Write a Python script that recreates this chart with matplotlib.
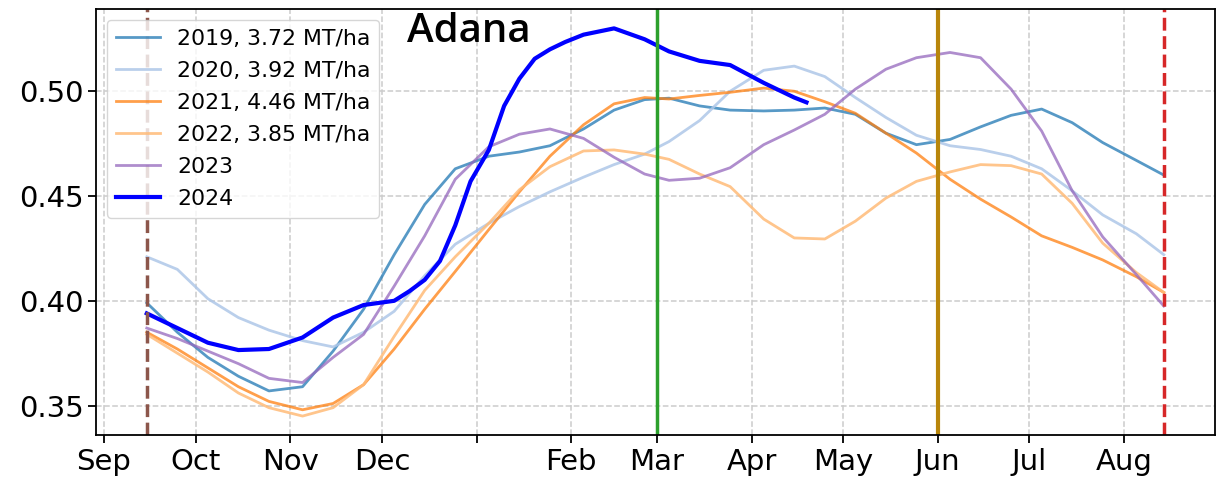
import datetime as dt
import matplotlib
matplotlib.use('Agg')
import matplotlib.pyplot as plt
import matplotlib.dates as mdates
from matplotlib.ticker import MultipleLocator, FuncFormatter

# season axis: Sep -> Aug
dates = ['2022-09-15', '2022-09-25', '2022-10-05', '2022-10-15', '2022-10-25',
         '2022-11-05', '2022-11-15', '2022-11-25', '2022-12-05', '2022-12-15',
         '2022-12-25', '2023-01-05', '2023-01-15', '2023-01-25', '2023-02-05',
         '2023-02-15', '2023-02-25', '2023-03-05', '2023-03-15', '2023-03-25',
         '2023-04-05', '2023-04-15', '2023-04-25', '2023-05-05', '2023-05-15',
         '2023-05-25', '2023-06-05', '2023-06-15', '2023-06-25', '2023-07-05',
         '2023-07-15', '2023-07-25', '2023-08-05', '2023-08-14']
# current season is sampled a bit denser through the winter rise
dates_2024 = ['2022-09-15', '2022-09-25', '2022-10-05', '2022-10-15', '2022-10-25',
              '2022-11-05', '2022-11-15', '2022-11-25', '2022-12-05', '2022-12-10',
              '2022-12-15', '2022-12-20', '2022-12-25', '2022-12-30', '2023-01-05',
              '2023-01-10', '2023-01-15', '2023-01-20', '2023-01-25', '2023-01-30',
              '2023-02-05', '2023-02-15', '2023-02-25', '2023-03-05', '2023-03-15',
              '2023-03-25', '2023-04-05', '2023-04-15', '2023-04-19']

ndvi_2019 = [0.399, 0.385, 0.373, 0.364, 0.357, 0.359, 0.376, 0.396, 0.422, 0.446,
             0.463, 0.469, 0.471, 0.474, 0.482, 0.491, 0.496, 0.4967, 0.493, 0.491,
             0.4906, 0.491, 0.492, 0.489, 0.480, 0.4745, 0.477, 0.483, 0.4885, 0.4915,
             0.485, 0.4755, 0.467, 0.460]
ndvi_2020 = [0.421, 0.415, 0.401, 0.392, 0.386, 0.381, 0.378, 0.385, 0.395, 0.412,
             0.427, 0.437, 0.445, 0.452, 0.459, 0.465, 0.470, 0.476, 0.486, 0.500,
             0.510, 0.512, 0.507, 0.497, 0.4875, 0.479, 0.474, 0.4722, 0.469, 0.463,
             0.4525, 0.441, 0.432, 0.422]
ndvi_2021 = [0.385, 0.377, 0.368, 0.359, 0.352, 0.348, 0.351, 0.360, 0.377, 0.396,
             0.414, 0.434, 0.452, 0.469, 0.484, 0.494, 0.497, 0.4963, 0.498, 0.4995,
             0.5015, 0.500, 0.495, 0.4895, 0.480, 0.4705, 0.458, 0.4485, 0.440, 0.431,
             0.4255, 0.4195, 0.4115, 0.404]
ndvi_2022 = [0.384, 0.375, 0.366, 0.356, 0.349, 0.345, 0.349, 0.360, 0.383, 0.405,
             0.421, 0.437, 0.453, 0.464, 0.4715, 0.472, 0.470, 0.4675, 0.4605, 0.4545,
             0.439, 0.430, 0.4295, 0.438, 0.449, 0.457, 0.4615, 0.465, 0.4645, 0.4605,
             0.4465, 0.4275, 0.4135, 0.404]
ndvi_2023 = [0.387, 0.382, 0.376, 0.370, 0.363, 0.361, 0.373, 0.384, 0.407, 0.431,
             0.458, 0.4735, 0.4795, 0.482, 0.4775, 0.4685, 0.4605, 0.4575, 0.4585, 0.4635,
             0.4745, 0.4815, 0.489, 0.501, 0.5105, 0.516, 0.5185, 0.516, 0.501, 0.481,
             0.4525, 0.4305, 0.4125, 0.3975]
ndvi_2024 = [0.394, 0.387, 0.380, 0.3765, 0.377, 0.3825, 0.392, 0.398, 0.400, 0.4046,
             0.410, 0.419, 0.436, 0.457, 0.472, 0.493, 0.506, 0.5155, 0.520, 0.5235,
             0.527, 0.530, 0.5248, 0.519, 0.5145, 0.5125, 0.504, 0.497, 0.4947]

labels = ['2019, 3.72 MT/ha', '2020, 3.92 MT/ha', '2021, 4.46 MT/ha',
          '2022, 3.85 MT/ha', '2023', '2024']

# season markers
season_start = '2022-09-15'
flowering = '2023-03-01'
harvest = '2023-06-01'
season_end = '2023-08-14'


def to_dt(lst):
    return [dt.datetime.strptime(d, '%Y-%m-%d') for d in lst]


x = to_dt(dates)
x24 = to_dt(dates_2024)

fig = plt.figure(figsize=(12.16, 4.86), dpi=100)
ax = fig.add_axes([0.0789, 0.104, 0.92, 0.8775])

ax.plot(x, ndvi_2019, color='#1f77b4', alpha=0.75, lw=2, label=labels[0])
ax.plot(x, ndvi_2020, color='#aec7e8', alpha=0.85, lw=2, label=labels[1])
ax.plot(x, ndvi_2021, color='#ff7f0e', alpha=0.75, lw=2, label=labels[2])
ax.plot(x, ndvi_2022, color='#ffbb78', alpha=0.85, lw=2, label=labels[3])
ax.plot(x, ndvi_2023, color='#9467bd', alpha=0.75, lw=2, label=labels[4])
ax.plot(x24, ndvi_2024, color='blue', lw=3, label=labels[5])

ax.axvline(to_dt([season_start])[0], color='#8c564b', ls='--', lw=2.5)
ax.axvline(to_dt([flowering])[0], color='#2ca02c', lw=2.5)
ax.axvline(to_dt([harvest])[0], color='#b8860b', lw=3)
ax.axvline(to_dt([season_end])[0], color='#d62728', ls='--', lw=2.5)

ax.xaxis.set_major_locator(mdates.MonthLocator())
ax.xaxis.set_major_formatter(FuncFormatter(
    lambda v, pos: '' if mdates.num2date(v).month == 1 else mdates.num2date(v).strftime('%b')))
ax.yaxis.set_major_locator(MultipleLocator(0.05))
ax.yaxis.set_major_formatter(FuncFormatter(lambda v, pos: '%.2f' % v))

ax.tick_params(labelsize=21, length=5.5, width=1.3)
for s in ax.spines.values():
    s.set_linewidth(1.3)
ax.grid(True, ls='--', color='#cccccc', lw=1.1)

ax.legend(loc='upper left', fontsize=15.8, labelspacing=0.55)

fig.text(0.3345, 0.9142, 'Adana', fontsize=29, family='Open Sans', fontweight='semibold',
         ha='left', va='baseline', color='black')

fig.savefig('out.png', dpi=100)
